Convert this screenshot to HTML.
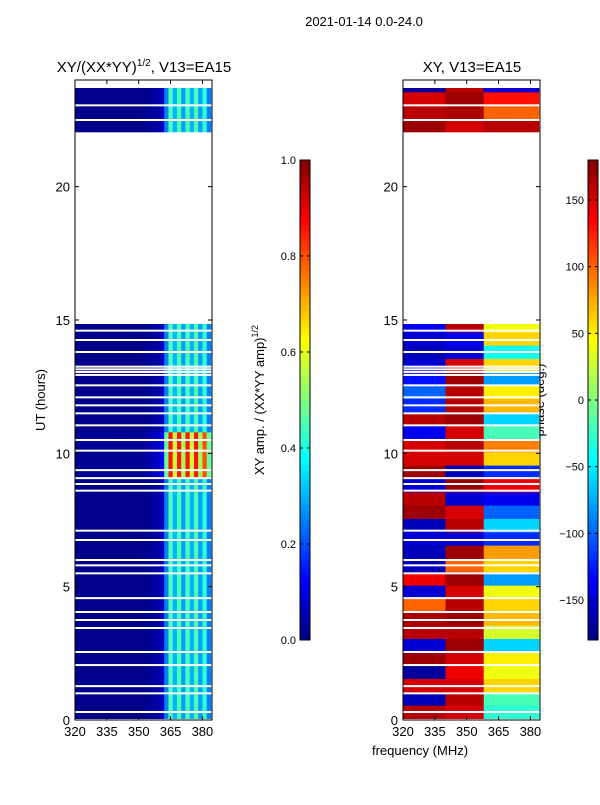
<!DOCTYPE html>
<html><head><meta charset="utf-8">
<style>
body{margin:0;background:#fff;font-family:"Liberation Sans",sans-serif;}
svg text{font-family:"Liberation Sans",sans-serif;fill:#000;}
</style></head>
<body>
<svg id="chart" width="600" height="800" xmlns="http://www.w3.org/2000/svg">
<rect width="600" height="800" fill="#fff"/>
<text x="364" y="26" font-size="13" text-anchor="middle">2021-01-14 0.0-24.0</text>
<text x="144" y="72" font-size="15" text-anchor="middle">XY/(XX*YY)<tspan font-size="10" dy="-6">1/2</tspan><tspan dy="6">, V13=EA15</tspan></text>
<text x="472" y="72" font-size="15" text-anchor="middle">XY, V13=EA15</text>
<text transform="translate(45,400) rotate(-90)" font-size="13" text-anchor="middle">UT (hours)</text>
<text x="420" y="755" font-size="13" text-anchor="middle">frequency (MHz)</text>
<text transform="translate(264,400) rotate(-90)" font-size="13" text-anchor="middle">XY amp. / (XX*YY amp)<tspan font-size="9" dy="-6">1/2</tspan></text>
<text transform="translate(544,400) rotate(-90)" font-size="13" text-anchor="middle">phase (deg.)</text>
<g id="gL"></g>
<g id="gR"></g>
<g id="axes"></g>
</svg>
<script>
// ---- data ----
const channels = [321,323,325,327,329,331,333,335,337,339,341,343,345,347,349,351,353,355,357,359,361,363,365,367,369,371,373,375,377,379,381,383];
const ampProfile = [0.01,0.01,0.01,0.01,0.01,0.01,0.01,0.01,0.01,0.01,0.01,0.01,0.01,0.01,0.01,0.01,0.02,0.02,0.03,0.04,0.06,0.25,0.45,0.3,0.45,0.28,0.45,0.3,0.45,0.28,0.42,0.25];
const boostStart = [9.0];
const boostEnd = [10.8];
const boostFactor = [1.9];
const segStart = [0.05, 22.05];
const segEnd = [14.85, 23.7];
const gapHours = [0.3,1.0,1.27,2.06,2.55,3.45,3.75,4.05,4.57,5.5,5.8,6.0,6.75,7.1,8.6,8.85,9.07,9.37,10.1,10.5,11.05,11.5,11.8,12.1,12.55,12.94,13.05,13.15,13.25,13.8,14.25,14.6,22.5,23.05];
const phaseA = [160,-160,150,-170,170,-150,160,165,100,-150,140,-160,-160,-150,-160,170,160,-150,170,150,150,-140,160,-120,-100,-130,-150,-160,-150,-140,null,null,null,null,null,null,null,null,null,null,null,null,null,null,170,160,150,-170];
const phaseB = [150,160,150,140,150,170,160,170,160,150,170,100,170,-150,160,150,-150,170,-160,150,160,150,170,160,160,170,150,-150,-140,160,null,null,null,null,null,null,null,null,null,null,null,null,null,null,150,165,170,160];
const phaseC = [-30,-20,60,40,50,-60,30,70,60,40,-80,60,80,-120,-60,-100,-140,140,-120,60,90,-20,-60,70,50,-80,60,-40,60,40,null,null,null,null,null,null,null,null,null,null,null,null,null,null,160,100,130,-150];
const xTicks = [320,335,350,365,380];
const yTicks = [0,5,10,15,20];
const ampTicks = [0.0,0.2,0.4,0.6,0.8,1.0];
const phaseTicks = [-150,-100,-50,0,50,100,150];

// ---- scales ----
const Y0=720, PXH=640/24;
const yS = h => Y0 - h*PXH;
const xL = f => 75 + (f-320)*(137/64.5);
const xR = f => 403 + (f-320)*(137/64.5);
function jet(v){v=Math.max(0,Math.min(1,v));
 const r=Math.max(0,Math.min(1,1.5-Math.abs(4*v-3))),g=Math.max(0,Math.min(1,1.5-Math.abs(4*v-2))),b=Math.max(0,Math.min(1,1.5-Math.abs(4*v-1)));
 return `rgb(${Math.round(r*255)},${Math.round(g*255)},${Math.round(b*255)})`;}
const NS="http://www.w3.org/2000/svg";
function mk(tag,attrs,parent){const e=document.createElementNS(NS,tag);for(const k in attrs)e.setAttribute(k,attrs[k]);parent.appendChild(e);return e;}
const gL=document.getElementById('gL'),gR=document.getElementById('gR'),ax=document.getElementById('axes');
const ROW=0.25;
segStart.forEach((s,si)=>{
 for(let h=s;h<segEnd[si]-1e-6;h+=ROW){
  const h2=Math.min(h+ROW,segEnd[si]);
  let f=1; boostStart.forEach((b,bi)=>{if(h>=b&&h<boostEnd[bi])f=boostFactor[bi];});
  const pi=Math.floor(h/0.5);
  channels.forEach((c,ci)=>{
   const r=mk('rect',{x:xL(c-1),y:yS(h2),width:xL(c+1)-xL(c-1)+0.3,height:yS(h)-yS(h2)+0.3,fill:jet(ampProfile[ci]*f)},gL);
   
   
   const arr = c<340?phaseA:(c<358?phaseB:phaseC);
   const p = arr[pi]; if(p===null||p===undefined) return;
   const q=mk('rect',{x:xR(c-1),y:yS(h2),width:xR(c+1)-xR(c-1)+0.3,height:yS(h)-yS(h2)+0.3,fill:jet((p+180)/360)},gR);
   
   
  });
 }
});
gapHours.forEach(g=>{
 [[75,gL],[403,gR]].forEach(([x0,par])=>{
  const r=mk('rect',{x:x0,y:yS(g)-1,width:137,height:2,fill:'#fff'},par);
  
  
 });
});
// axes frames
[[75,'left'],[403,'right']].forEach(([x0,nm])=>{
 const f=mk('rect',{x:x0,y:80,width:137,height:640,fill:'none',stroke:'#000','stroke-width':1},ax);
 
 
 const xs = nm==='left'?xL:xR;
 xTicks.forEach(t=>{
  mk('line',{x1:xs(t),x2:xs(t),y1:720,y2:716,stroke:'#000'},ax);
  mk('line',{x1:xs(t),x2:xs(t),y1:80,y2:84,stroke:'#000'},ax);
  const tx=mk('text',{x:xs(t),y:736,'font-size':13,'text-anchor':'middle'},ax);tx.textContent=t;
  
  
 });
 yTicks.forEach(t=>{
  mk('line',{x1:x0,x2:x0+4,y1:yS(t),y2:yS(t),stroke:'#000'},ax);
  mk('line',{x1:x0+137,x2:x0+133,y1:yS(t),y2:yS(t),stroke:'#000'},ax);
  const tx=mk('text',{x:x0-5,y:yS(t)+5,'font-size':13,'text-anchor':'end'},ax);tx.textContent=t;
  
  
 });
});
// colorbars
function cbar(x0,ticks,lo,hi,fmt,nm){
 const N=96;
 for(let i=0;i<N;i++){mk('rect',{x:x0,y:640-(i+1)*5,width:10,height:5.3,fill:jet((i+0.5)/N)},ax);}
 const f=mk('rect',{x:x0,y:160,width:10,height:480,fill:'none',stroke:'#000'},ax);
 
 
 ticks.forEach(t=>{const y=640-(t-lo)/(hi-lo)*480;
  mk('line',{x1:x0,x2:x0+3,y1:y,y2:y,stroke:'#000'},ax);
  mk('line',{x1:x0+10,x2:x0+7,y1:y,y2:y,stroke:'#000'},ax);
  const tx=mk('text',{x:x0-4,y:y+4,'font-size':11,'text-anchor':'end'},ax);tx.textContent=fmt(t);
  
  
 });
}
cbar(300,ampTicks,0,1,t=>t.toFixed(1),'amp-colorbar');
cbar(588,phaseTicks,-180,180,t=>t<0?'\u2212'+(-t):String(t),'phase-colorbar');
</script>
</body></html>
